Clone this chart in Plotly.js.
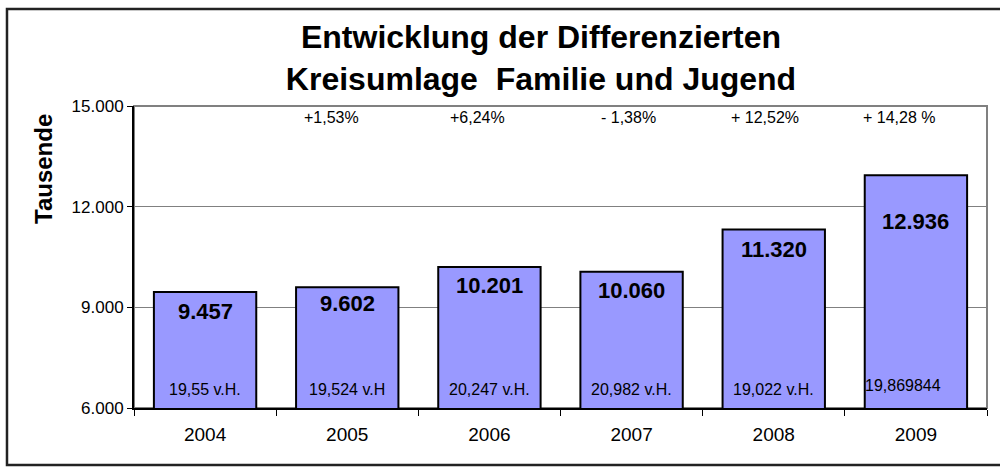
<!DOCTYPE html>
<html>
<head>
<meta charset="utf-8">
<script src="https://cdn.plot.ly/plotly-3.0.1.min.js"></script>
<style>html,body{margin:0;padding:0;background:#fff;}#chart{width:1000px;height:472px;}</style>
</head>
<body>
<div id="chart"></div>
<script>
// Data
const years = ['2004', '2005', '2006', '2007', '2008', '2009'];
const values = [9457, 9602, 10201, 10060, 11320, 12936];
const valueLabels = ['9.457', '9.602', '10.201', '10.060', '11.320', '12.936'];
const shareLabels = ['19,55 v.H.', '19,524 v.H', '20,247 v.H.', '20,982 v.H.', '19,022 v.H.', '19,869844'];
const changeYears = ['2005', '2006', '2007', '2008', '2009'];
const changeLabels = ['+1,53%', '+6,24%', '- 1,38%', '+ 12,52%', '+ 14,28 %'];
const yTicks = [6000, 9000, 12000, 15000];
const yTickLabels = ['6.000', '9.000', '12.000', '15.000'];

// style-only offsets (pixels) for the labels
const valueLabelDrop = [5, 2, 4, 4, 6, 32];
const changeShiftX = [-16, -12, -3, -9, -16];

const FONT = 'Liberation Sans, Arial, sans-serif';

// category axes place annotations by serial index
const catIndex = yr => years.indexOf(yr);

const annotations = [];
years.forEach((yr, i) => {
  annotations.push({
    x: catIndex(yr), y: values[i], xref: 'x', yref: 'y',
    text: '<b>' + valueLabels[i] + '</b>', showarrow: false,
    xanchor: 'center', yanchor: 'top', yshift: -valueLabelDrop[i],
    font: {family: FONT, size: 22, color: '#000'}
  });
  annotations.push({
    x: catIndex(yr), y: 6000, xref: 'x', yref: 'y',
    text: shareLabels[i], showarrow: false,
    xanchor: 'center', yanchor: 'bottom', yshift: i === 5 ? 12 : 8,
    xshift: i === 5 ? -13 : 0,
    font: {family: FONT, size: 16, color: '#000'}
  });
});
changeYears.forEach((yr, i) => {
  annotations.push({
    x: catIndex(yr), y: 15000, xref: 'x', yref: 'y',
    text: changeLabels[i], showarrow: false,
    xanchor: 'center', yanchor: 'middle', yshift: -11, xshift: changeShiftX[i],
    font: {family: FONT, size: 16, color: '#000'}
  });
});
annotations.push({
  x: -0.106, y: 0.79, xref: 'paper', yref: 'paper',
  xanchor: 'center', yanchor: 'middle',
  text: '<b>Tausende</b>', showarrow: false, textangle: -90,
  font: {family: FONT, size: 24, color: '#000'}
});

const trace = {
  type: 'bar', x: years, y: values,
  marker: {color: '#9999FF', line: {color: '#000', width: 2}},
  width: 0.72, hoverinfo: 'skip'
};

const layout = {
  width: 1000, height: 472,
  margin: {l: 134, r: 13, t: 106, b: 64},
  paper_bgcolor: '#fff', plot_bgcolor: '#fff',
  showlegend: false,
  title: {
    text: '<b>Entwicklung der Differenzierten<br>Kreisumlage  Familie und Jugend</b>',
    font: {family: FONT, size: 32, color: '#000'},
    x: 0.541, xanchor: 'center', y: 0.898, yanchor: 'middle', yref: 'container'
  },
  xaxis: {
    type: 'category', tickson: 'boundaries', ticks: 'outside', ticklen: 6,
    tickcolor: '#000', showline: true, linecolor: '#000', linewidth: 2,
    tickfont: {family: FONT, size: 19, color: '#000'}, showgrid: false,
    ticklabelstandoff: 8,
    range: [-0.5, 5.5], fixedrange: true
  },
  yaxis: {
    range: [6000, 15000], tickvals: yTicks, ticktext: yTickLabels,
    ticks: 'outside', ticklen: 5, tickcolor: '#000',
    showline: true, linecolor: '#000', linewidth: 2,
    showgrid: true, gridcolor: '#808080', gridwidth: 1,
    tickfont: {family: FONT, size: 17, color: '#000'}, zeroline: false,
    fixedrange: true
  },
  annotations: annotations,
  shapes: [
    {type: 'rect', xref: 'paper', yref: 'paper', x0: 0, x1: 1, y0: 0, y1: 1,
     line: {color: '#808080', width: 2}, layer: 'below'},
    {type: 'rect', xref: 'paper', yref: 'paper', x0: -0.1489, x1: 1.05, y0: -0.1887, y1: 1.3212,
     line: {color: '#222', width: 2.5}, layer: 'below'}
  ]
};

Plotly.newPlot('chart', [trace], layout, {displayModeBar: false, staticPlot: true});
</script>
</body>
</html>
